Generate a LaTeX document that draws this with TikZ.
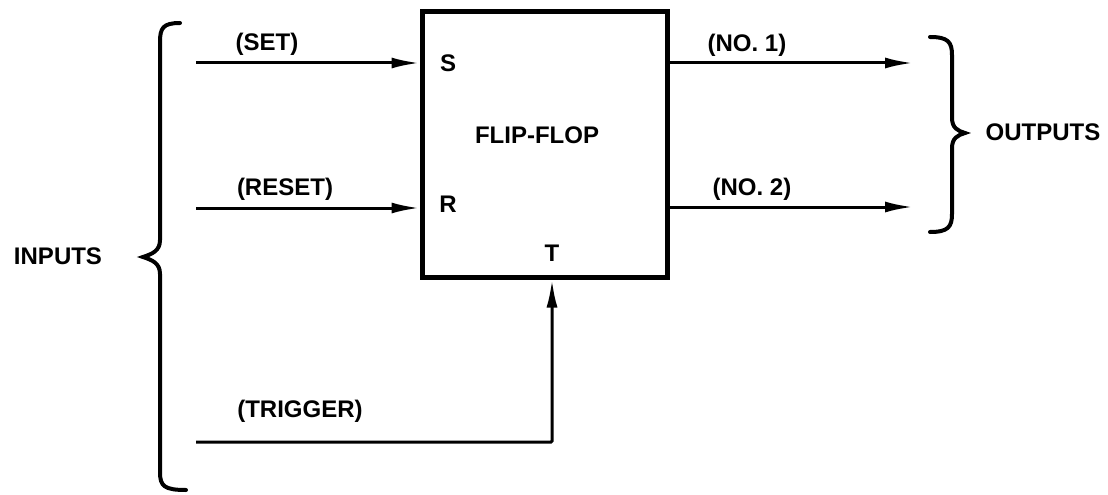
\documentclass[tikz,border=0pt]{standalone}
\usepackage{fontspec}
\usepackage{tikz}
\usetikzlibrary{arrows.meta}
\newfontfamily\lettering{Liberation Sans}
\tikzset{lettering/.style={font=\lettering\bfseries\fontsize{24}{24}\selectfont,inner sep=0pt},ffbox/.style={draw,line width=5pt,minimum width=245pt,minimum height=265pt,inner sep=0pt},sig/.style={line width=3pt,-{Latex[length=28pt,width=11pt]}},brace/.style={line width=4pt,line cap=round}}

\begin{document}
\begin{tikzpicture}[x=1pt,y=-1pt]
 \useasboundingbox (0,0) rectangle (1108,495);
 \node[ffbox] (ff) at (544.5,144.5) {};
 \node[lettering] (fflab) at (537,135) {FLIP-FLOP};
 \node[lettering] (s) at (448,63) {S};
 \node[lettering] (r) at (448,204) {R};
 \node[lettering] (t) at (552,253) {T};
 % inputs from the left
 \foreach \nm/\lab/\yy/\lx in {set/(SET)/63/267,rst/(RESET)/208/285} {
   \coordinate (\nm in) at (196,\yy);
   \node[lettering] (\nm lab) at (\lx,\yy-19) {\lab};
   \draw[sig] (\nm in) -- (\nm in -| ff.west);
 }
 \coordinate (trigin) at (196,442);
 \node[lettering] (triglab) at (300,411) {(TRIGGER)};
 \draw[sig,rounded corners=1pt] (trigin) -| (ff.south -| t);
 % outputs to the right
 \foreach \nm/\lab/\yy/\lx in {qa/(NO. 1)/63/747,qb/(NO. 2)/207/752} {
   \coordinate (\nm out) at (913,\yy);
   \node[lettering] (\nm lab) at (\lx,\yy-18) {\lab};
   \draw[sig] (ff.east |- \nm out) -- (\nm out);
 }
 % braces
 \draw[brace] (180,23) .. controls (163,23) and (160,28) .. (160,42) -- (160,240) .. controls (160,251) and (152,254) .. (143,257) .. controls (152,260) and (160,263) .. (160,274) -- (160,472) .. controls (160,486) and (164,490) .. (186,490);
 \node[lettering] (inputs) at (58,256) {INPUTS};
 \draw[brace] (930,37) .. controls (948,37) and (952,42) .. (952,55) -- (952,118) .. controls (952,128) and (958,131) .. (965,133) .. controls (958,135) and (952,138) .. (952,148) -- (952,214) .. controls (952,227) and (948,232) .. (930,232);
 \node[lettering] (outputs) at (1043,132) {OUTPUTS};
\end{tikzpicture}
\end{document}
